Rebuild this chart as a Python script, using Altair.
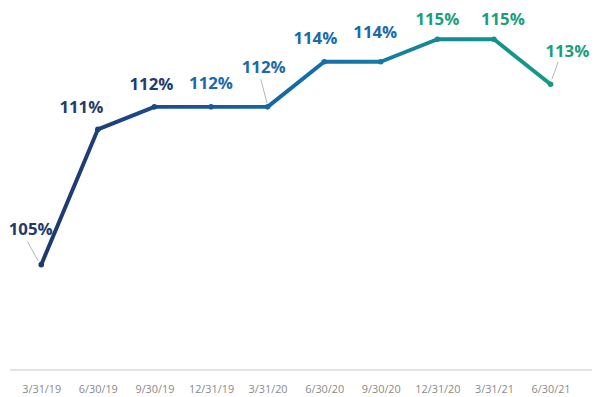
import altair as alt
import pandas as pd

# ---- data ----
dates = ["3/31/19", "6/30/19", "9/30/19", "12/31/19", "3/31/20",
         "6/30/20", "9/30/20", "12/31/20", "3/31/21", "6/30/21"]
values = [105, 111, 112, 112, 112, 114, 114, 115, 115, 113]
labels = ["105%", "111%", "112%", "112%", "112%", "114%", "114%", "115%", "115%", "113%"]
groups = ["navy", "navy", "navy", "blue", "blue", "blue", "blue", "teal", "teal", "teal"]

# ---- annotation layout (pixel offsets from each point) ----
label_dx = [-10.7, -16.7, -3.0, 0.0, -4.0, -9.0, -5.6, 0.0, 9.0, 17.0]
label_dy = [-30.5, -16.7, -17.2, -18.2, -34.8, -18.1, -24.1, -14.0, -14.0, -27.7]
leader_idx = [0, 4, 9]
leader_x1 = [-14.1, -6.9, 7.7]
leader_y1 = [-23.6, -28.0, -22.7]
leader_x2 = [-3.0, -0.5, 1.3]
leader_y2 = [-3.6, -3.5, -5.0]

# ---- styles ----
stop_colors = ["#1f3a6c", "#1e3f77", "#1b4c8a", "#18599b", "#1565a6",
               "#1570a9", "#157aa3", "#148a94", "#13928c", "#159a86"]
group_domain = ["navy", "blue", "teal"]
group_colors = ["#243b6c", "#1c6aaa", "#189f80"]
FONT = "Open Sans"

df = pd.DataFrame({
    "date": dates, "value": values, "label": labels, "group": groups,
    "dx": label_dx, "dy": label_dy,
})
lead = pd.DataFrame({
    "date": [dates[i] for i in leader_idx],
    "value": [values[i] for i in leader_idx],
    "lx1": leader_x1, "ly1": leader_y1, "lx2": leader_x2, "ly2": leader_y2,
})

xscale = alt.Scale(type="point", domain=dates, range=[33.7, 550], padding=0)
yscale = alt.Scale(domain=[100.339, 116.269], zero=False, nice=False)

x = alt.X("date:N", scale=xscale, sort=dates,
          axis=alt.Axis(title=None, grid=False, domain=False, ticks=False, tickSize=0,
                        labelAngle=0, labelFont=FONT, labelFontSize=11,
                        labelColor="#8a8a8a", labelBaseline="alphabetic",
                        labelPadding=23, labelOverlap=False))
y = alt.Y("value:Q", scale=yscale, axis=None)

base = alt.Chart(df)

baseline = base.mark_rule(color="#e2e2e2", strokeWidth=1).encode(
    x=alt.value(2), x2=alt.value(592), y=alt.value(364))

grad = alt.Gradient(
    gradient="linear", x1=0, x2=1, y1=0, y2=0,
    stops=[alt.GradientStop(color=c, offset=i / (len(stop_colors) - 1))
           for i, c in enumerate(stop_colors)])

line = base.mark_line(stroke=grad, strokeWidth=4, strokeJoin="round", strokeCap="round").encode(x=x, y=y)

points = base.mark_circle(size=32, opacity=1).encode(
    x=x, y=y,
    color=alt.Color("date:N", scale=alt.Scale(domain=dates, range=stop_colors), legend=None))

leaders = alt.Chart(lead).mark_rule(
    color="#b5b5b5", strokeWidth=1,
    xOffset=alt.ExprRef("datum.lx1"), yOffset=alt.ExprRef("datum.ly1"),
    x2Offset=alt.ExprRef("datum.lx2"), y2Offset=alt.ExprRef("datum.ly2"),
).encode(x=x, y=y, x2="date:N", y2="value:Q")

text = base.mark_text(
    font=FONT, fontSize=17, fontWeight="bold", align="center", baseline="alphabetic",
    dx=alt.ExprRef("datum.dx"), dy=alt.ExprRef("datum.dy"),
).encode(
    x=x, y=y, text="label:N",
    color=alt.Color("group:N", scale=alt.Scale(domain=group_domain, range=group_colors), legend=None))

chart = alt.layer(baseline, line, leaders, points, text).properties(
    width=592, height=364,
    autosize=alt.AutoSizeParams(type="none"),
    padding={"left": 0, "top": 0, "right": 0, "bottom": 25},
).configure_view(strokeWidth=0).resolve_scale(color="independent")

chart.save("out.html", embed_options={"renderer": "svg", "actions": False})
